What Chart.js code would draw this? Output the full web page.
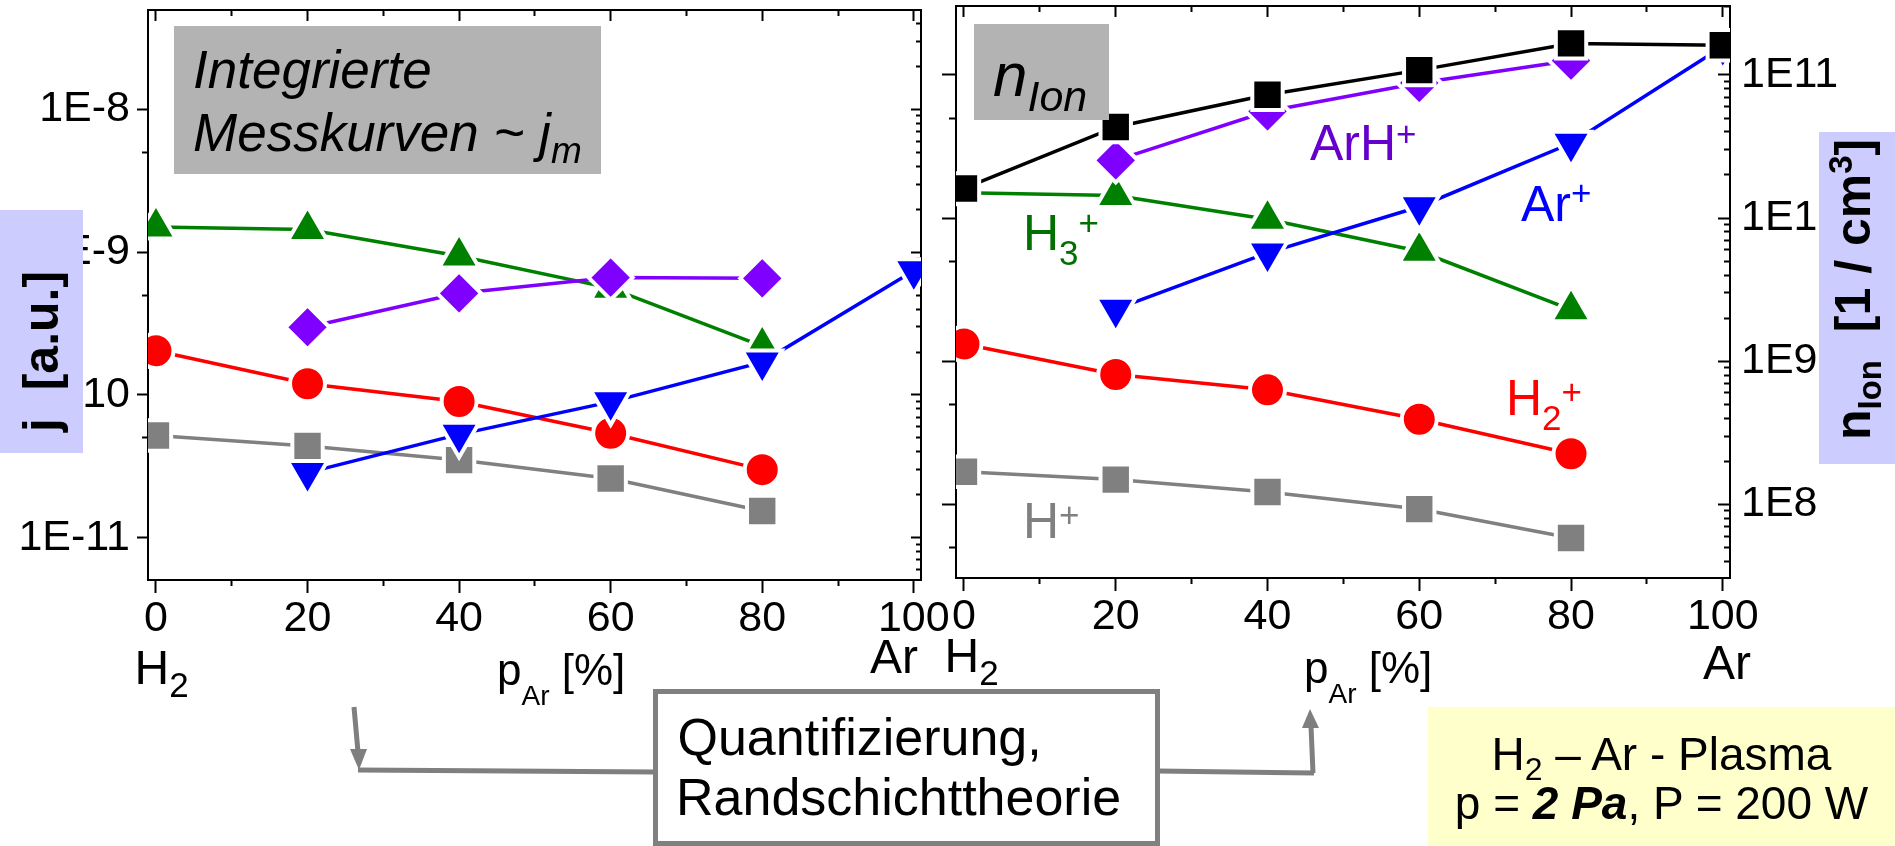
<!DOCTYPE html>
<html lang="de">
<head>
<meta charset="utf-8">
<title>H2 – Ar - Plasma: Ionenströme und Ionendichten</title>
<script src="https://cdn.jsdelivr.net/npm/chart.js@4.4.1/dist/chart.umd.min.js"></script>
<style>
  html, body { margin: 0; padding: 0; background: #fff; }
  body { position: relative; width: 1895px; height: 846px; overflow: hidden;
         font-family: "Liberation Sans", Arial, Helvetica, sans-serif; }
  canvas { position: absolute; left: 0; top: 0; }
  svg { position: absolute; left: 0; top: 0; }
  .box { position: absolute; box-sizing: border-box; }
  .t { position: absolute; line-height: 1; white-space: pre; color: #000; }
  .lo, .hi { position: relative; line-height: 0; vertical-align: baseline; }
  .rot { transform-origin: 0 0; transform: rotate(-90deg); font-weight: bold; }
</style>
</head>
<body>
<canvas id="jChart" width="1895" height="846"></canvas>
<canvas id="nChart" width="1895" height="846"></canvas>

<svg width="1895" height="846" viewBox="0 0 1895 846">
  <g stroke="#7f7f7f" stroke-width="5" fill="none">
    <line x1="354" y1="707" x2="358" y2="752"/>
    <line x1="358" y1="770" x2="655" y2="772"/>
    <line x1="1158" y1="771" x2="1314" y2="773"/>
    <line x1="1313" y1="773" x2="1311" y2="726"/>
  </g>
  <g fill="#7f7f7f">
    <polygon points="350,749 367,749 359,770"/>
    <polygon points="1302,728 1319,728 1310,709"/>
  </g>
</svg>

<div class="box" style="left:174px;top:26px;width:427px;height:148px;background:#b3b3b3"></div>
<div class="box" style="left:974px;top:24px;width:135px;height:96px;background:#b3b3b3"></div>
<div class="box" style="left:0;top:210px;width:83px;height:243px;background:#ccccff"></div>
<div class="box" style="left:1819px;top:132px;width:76px;height:332px;background:#ccccff"></div>
<div class="box" style="left:653px;top:689px;width:507px;height:157px;border:5px solid #808080;background:#fff"></div>
<div class="box" style="left:1428px;top:707px;width:467px;height:139px;background:#ffffcc"></div>

<script>
// Argon fraction in the H2/Ar feed gas, p_Ar [%]
const pAr = [0, 20, 40, 60, 80, 100];

// Integrated measurement curves j [a.u.] per ion species (null = not measured)
const jHplus   = [5.2e-11, 4.4e-11, 3.5e-11, 2.6e-11, 1.54e-11, null];
const jH2plus  = [2.04e-10, 1.2e-10, 9.0e-11, 5.4e-11, 3.0e-11, null];
const jH3plus  = [1.5e-9, 1.44e-9, 9.4e-10, 5.6e-10, 2.2e-10, null];
const jArHplus = [null, 2.98e-10, 5.15e-10, 6.64e-10, 6.56e-10, null];
const jArplus  = [null, 2.86e-11, 5.3e-11, 8.95e-11, 1.7e-10, 7.4e-10];

// Ion densities n_Ion [1/cm^3] per species and in total
const nHplus   = [1.69e8, 1.49e8, 1.22e8, 9.27e7, 5.83e7, null];
const nH2plus  = [1.32e9, 8.07e8, 6.31e8, 3.93e8, 2.26e8, null];
const nH3plus  = [1.5e10, 1.44e10, 9.8e9, 5.86e9, 2.29e9, null];
const nArHplus = [null, 2.53e10, 5.57e10, 8.79e10, 1.26e11, null];
const nArplus  = [null, 2.31e9, 5.71e9, 1.2e10, 3.33e10, 1.58e11];
const nTotal   = [1.61e10, 4.33e10, 7.26e10, 1.08e11, 1.66e11, 1.61e11];

// Tick values and their labels
const xTicks      = [0, 20, 40, 60, 80, 100];
const xTickLabels = ['0', '20', '40', '60', '80', '100'];
const xMinorTicks = [10, 30, 50, 70, 90];
const jTicks      = [1e-11, 1e-10, 1e-9, 1e-8];
const jTickLabels = ['1E-11', '1E-10', '1E-9', '1E-8'];
const nTicks      = [1e8, 1e9, 1e10, 1e11];
const nTickLabels = ['1E8', '1E9', '1E10', '1E11'];

// Axis ranges
const X_MIN = -1.05, X_MAX = 100.95;
const J_MIN = 5.06e-12, J_MAX = 4.97e-8;
const N_MIN = 3.06e7, N_MAX = 3.03e11;

const FAMILY = '"Liberation Sans", Arial, Helvetica, sans-serif';
Chart.defaults.font.family = FAMILY;
Chart.defaults.color = '#000';
const TICK_FONT = 43;

// minor positions on a log axis: multiples of each decade
function logMultiples(decades, mults) {
  const all = [decades[0] / 10, ...decades];
  const out = [];
  all.forEach(d => mults.forEach(m => out.push(d * m)));
  return out;
}
const jFives  = logMultiples(jTicks, [5]);
const jMinors = logMultiples(jTicks, [2, 3, 4, 5, 6, 7, 8, 9]);
const nFives  = logMultiples(nTicks, [5]);
const nMinors = logMultiples(nTicks, [2, 3, 4, 5, 6, 7, 8, 9]);

function noPad(s) { s.paddingLeft = s.paddingRight = s.paddingTop = s.paddingBottom = 0; }

// axis that only contributes tick marks (and optionally a frame edge)
function tickAxis(axis, type, anchor, min, max, values, len, withBorder) {
  return {
    type, axis, min, max, bounds: 'data', position: anchor,
    afterBuildTicks: s => { s.ticks = values.filter(v => v >= min && v <= max).map(v => ({ value: v })); },
    afterFit: noPad,
    ticks: { display: false },
    grid: { display: true, drawOnChartArea: false, drawTicks: true, tickLength: len, tickWidth: 2, tickColor: '#000' },
    border: { display: withBorder, width: 2, color: '#000' }
  };
}

function mainX() {
  return {
    type: 'linear', position: 'bottom', min: X_MIN, max: X_MAX, bounds: 'data',
    afterBuildTicks: s => { s.ticks = xTicks.map(v => ({ value: v })); },
    afterFit: s => { noPad(s); s.height = 60; },
    ticks: { autoSkip: false, maxRotation: 0, minRotation: 0, padding: 0, color: '#000',
             font: { size: TICK_FONT }, callback: (v, i) => xTickLabels[i] },
    grid: { drawOnChartArea: false, tickLength: 13, tickWidth: 2, tickColor: '#000' },
    border: { width: 2, color: '#000' }
  };
}

function series(label, values, color, style, rotation, radius, order) {
  return {
    label, order, xAxisID: 'x', yAxisID: 'y',
    data: pAr.map((x, i) => ({ x, y: values[i] })).filter(p => p.y !== null),
    borderColor: color, backgroundColor: color, borderWidth: 3.5,
    pointStyle: style, pointRotation: rotation, pointRadius: radius,
    pointBackgroundColor: color, pointBorderColor: '#ffffff', pointBorderWidth: 4,
    tension: 0, fill: false, clip: 0
  };
}

const GRAY = '#808080', RED = '#ff0000', GREEN = '#008000', VIOLET = '#8000ff', BLUE = '#0000ff', BLACK = '#000000';
const R_SQ = 21.5, R_CI = 17.5, R_TR = 23, R_DI = 22;

const baseOptions = {
  responsive: false, animation: false, devicePixelRatio: 1, events: [],
  plugins: { legend: { display: false }, tooltip: { enabled: false } }
};

// Left panel: integrated measurement curves
new Chart(document.getElementById('jChart'), {
  type: 'line',
  data: { datasets: [
    series('ArH+', jArHplus, VIOLET, 'rectRot', 0, R_DI, 2),
    series('Ar+',  jArplus,  BLUE,   'triangle', 180, R_TR, 1),
    series('H2+',  jH2plus,  RED,    'circle', 0, R_CI, 3),
    series('H3+',  jH3plus,  GREEN,  'triangle', 0, R_TR, 4),
    series('H+',   jHplus,   GRAY,   'rect', 0, R_SQ, 5)
  ] },
  options: Object.assign({}, baseOptions, {
    layout: { autoPadding: false, padding: { left: 0, top: 10, right: 974, bottom: 206 } },
    scales: {
      x: mainX(),
      y: {
        type: 'logarithmic', position: 'left', min: J_MIN, max: J_MAX, bounds: 'data',
        afterBuildTicks: s => { s.ticks = jTicks.map(v => ({ value: v })); },
        afterFit: s => { noPad(s); s.width = 148; },
        ticks: { autoSkip: false, padding: 7, color: '#000', font: { size: TICK_FONT },
                 callback: (v, i) => jTickLabels[i] },
        grid: { drawOnChartArea: false, tickLength: 11, tickWidth: 2, tickColor: '#000' },
        border: { width: 2, color: '#000' }
      },
      xb:  tickAxis('x', 'linear', { y: J_MIN }, X_MIN, X_MAX, xMinorTicks, 6, false),
      xt:  tickAxis('x', 'linear', { y: J_MAX }, X_MIN, X_MAX, xTicks, 10, true),
      xtm: tickAxis('x', 'linear', { y: J_MAX }, X_MIN, X_MAX, xMinorTicks, 6, false),
      yl:  tickAxis('y', 'logarithmic', { x: X_MIN }, J_MIN, J_MAX, jFives, 6, false),
      yr:  tickAxis('y', 'logarithmic', { x: X_MAX }, J_MIN, J_MAX, jTicks, 9, true),
      yrm: tickAxis('y', 'logarithmic', { x: X_MAX }, J_MIN, J_MAX, jMinors, 5, false)
    }
  })
});

// Right panel: ion densities from sheath theory
new Chart(document.getElementById('nChart'), {
  type: 'line',
  data: { datasets: [
    series('n_total', nTotal, BLACK, 'rect', 0, R_SQ, 0),
    series('ArH+', nArHplus, VIOLET, 'rectRot', 0, R_DI, 2),
    series('Ar+',  nArplus,  BLUE,   'triangle', 180, R_TR, 1),
    series('H2+',  nH2plus,  RED,    'circle', 0, R_CI, 3),
    series('H3+',  nH3plus,  GREEN,  'triangle', 0, R_TR, 4),
    series('H+',   nHplus,   GRAY,   'rect', 0, R_SQ, 5)
  ] },
  options: Object.assign({}, baseOptions, {
    layout: { autoPadding: false, padding: { left: 956, top: 6, right: 45, bottom: 208 } },
    scales: {
      x: mainX(),
      y: {
        type: 'logarithmic', position: 'right', min: N_MIN, max: N_MAX, bounds: 'data',
        afterBuildTicks: s => { s.ticks = nTicks.map(v => ({ value: v })); },
        afterFit: s => { noPad(s); s.width = 120; },
        ticks: { autoSkip: false, padding: 11, color: '#000', font: { size: TICK_FONT },
                 callback: (v, i) => nTickLabels[i] },
        grid: { drawOnChartArea: false, drawTicks: false },
        border: { width: 2, color: '#000' }
      },
      xb:  tickAxis('x', 'linear', { y: N_MIN }, X_MIN, X_MAX, xMinorTicks, 6, false),
      xt:  tickAxis('x', 'linear', { y: N_MAX }, X_MIN, X_MAX, xTicks, 10, true),
      xtm: tickAxis('x', 'linear', { y: N_MAX }, X_MIN, X_MAX, xMinorTicks, 6, false),
      yl:  tickAxis('y', 'logarithmic', { x: X_MIN }, N_MIN, N_MAX, nTicks, 13, true),
      ylm: tickAxis('y', 'logarithmic', { x: X_MIN }, N_MIN, N_MAX, nFives, 7, false),
      yr:  tickAxis('y', 'logarithmic', { x: X_MAX }, N_MIN, N_MAX, nTicks, 12, false),
      yrm: tickAxis('y', 'logarithmic', { x: X_MAX }, N_MIN, N_MAX, nMinors, 6, false)
    }
  })
});

// ---- text annotations (positioned by their baseline) ----
const ASC = 0.8465; // baseline depth inside a line-height:1 box
function lo(t, size, shift) { return `<span class="lo" style="font-size:${size}px;top:${shift}px">${t}</span>`; }
function hi(t, size, shift) { return `<span class="hi" style="font-size:${size}px;top:${shift}px">${t}</span>`; }
function put(html, x, base, size, style) {
  const d = document.createElement('div');
  d.className = 't';
  d.innerHTML = html;
  d.style.cssText = `left:${x}px;top:${(base - ASC * size).toFixed(1)}px;font-size:${size}px;` + (style || '');
  document.body.appendChild(d);
  return d;
}
function putUp(html, baseX, startY, size) {
  const d = document.createElement('div');
  d.className = 't rot';
  d.innerHTML = html;
  d.style.cssText = `left:${(baseX - ASC * size).toFixed(1)}px;top:${startY}px;font-size:${size}px;`;
  document.body.appendChild(d);
  return d;
}

// panel titles
put('Integrierte', 193, 88, 53, 'font-style:italic');
put('Messkurven ~ j' + lo('m', 37, 12), 193, 151, 53, 'font-style:italic');
put('n' + lo('Ion', 43, 15), 993, 96, 62, 'font-style:italic');

// axis titles
putUp('j  [a.u.]', 58, 432, 50);
putUp('n' + lo('Ion', 33, 11) + '  [1 / cm' + hi('3', 33, -18) + ']', 1870, 440, 50);

// species labels
put('ArH' + hi('+', 35, -14), 1310, 160, 50, 'color:#6600cc');
put('H' + lo('3', 35, 15) + hi('+', 35, -15), 1023, 250, 50, 'color:#007000');
put('Ar' + hi('+', 35, -16), 1521, 221, 50, 'color:#0000ff');
put('H' + lo('2', 35, 15) + hi('+', 35, -11), 1506, 415, 50, 'color:#ff0000');
put('H' + hi('+', 35, -11), 1023, 538, 50, 'color:#808080');

// x-axis end-member and quantity labels
put('H' + lo('2', 35, 13), 134.5, 685, 48);
put('Ar', 870, 674, 48);
put('H' + lo('2', 35, 13), 944.5, 673, 48);
put('Ar', 1703, 680, 48);
put('p' + lo('Ar', 28, 20) + ' [%]', 497, 685, 44);
put('p' + lo('Ar', 28, 20) + ' [%]', 1304, 683, 44);

// method box
put('Quantifizierung,', 677.5, 755, 52);
put('Randschichttheorie', 676, 815, 52);

// plasma conditions
put('H' + lo('2', 32, 10) + ' – Ar - Plasma', 1428, 770, 46, 'width:467px;text-align:center');
put('p = <b><i>2 Pa</i></b>, P = 200 W', 1428, 819, 46, 'width:467px;text-align:center');
</script>
</body>
</html>
